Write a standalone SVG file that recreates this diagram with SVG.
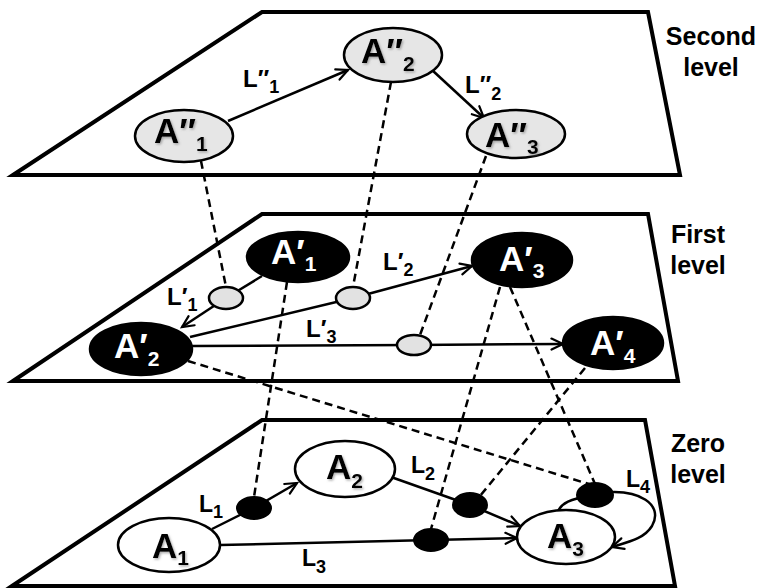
<svg xmlns="http://www.w3.org/2000/svg" width="763" height="588" viewBox="0 0 763 588">
  <defs>
    <marker id="arrow" markerWidth="16" markerHeight="16" refX="13" refY="7" orient="auto" markerUnits="userSpaceOnUse">
      <path d="M1.5,1.5 L13,7 L1.5,12.5" fill="none" stroke="#000" stroke-width="2.2" stroke-linecap="round" stroke-linejoin="miter"/>
    </marker>
    <filter id="shadow" x="-20%" y="-20%" width="140%" height="140%">
      <feDropShadow dx="1.2" dy="1.5" stdDeviation="0.9" flood-color="#777" flood-opacity="0.6"/>
    </filter>
  </defs>
  <style>
    .plane { fill: #fff; stroke: #000; stroke-width: 4; stroke-linejoin: miter; }
    .edge { fill: none; stroke: #000; stroke-width: 2.5; }
    .proj { fill: none; stroke: #000; stroke-width: 2.5; stroke-dasharray: 8 5; }
    .n2 { fill: #e6e6e6; stroke: #000; stroke-width: 2.5; }
    .n1 { fill: #000; stroke: #000; stroke-width: 2.5; }
    .n0 { fill: #fff; stroke: #000; stroke-width: 2.5; }
    .link1 { fill: #e2e2e2; stroke: #000; stroke-width: 2.5; }
    .link0 { fill: #000; stroke: #000; stroke-width: 2; }
    .name { font-family: "Liberation Sans", Arial, sans-serif; font-weight: bold; font-size: 35px; }
    .dark { fill: #000; filter: url(#shadow); }
    .light { fill: #fff; }
    .sub { font-size: 21px; }
    .lbl { font-family: "Liberation Sans", Arial, sans-serif; font-weight: bold; font-size: 24px; fill: #000; }
    .lsub { font-size: 18px; }
    .lvl { font-family: "Liberation Sans", Arial, sans-serif; font-weight: bold; font-size: 25px; fill: #000; text-anchor: middle; }
  </style>

  <!-- level planes -->
  <g id="planes">
    <polygon id="plane-second" class="plane" points="13,175 262,12 648,12 680,175"/>
    <polygon id="plane-first" class="plane" points="13,381 262,214 648,214 678,381"/>
    <polygon id="plane-zero" class="plane" points="12,586 262,420 645,420 675,586"/>
  </g>

  <!-- level captions -->
  <g id="captions">
    <text class="lvl" x="711" y="45">Second</text>
    <text class="lvl" x="711" y="76">level</text>
    <text class="lvl" x="698" y="243">First</text>
    <text class="lvl" x="698" y="274">level</text>
    <text class="lvl" x="698" y="452">Zero</text>
    <text class="lvl" x="698" y="483">level</text>
  </g>

  <!-- connectors -->
  <g id="connectors">
    <!-- second level -->
    <path class="edge" d="M228,121 L348,70" marker-end="url(#arrow)"/>
    <path class="edge" d="M432,70 L484,118" marker-end="url(#arrow)"/>
    <!-- first level -->
    <path class="edge" d="M262,276 L226,298"/>
    <path class="edge" d="M226,298 L182,327" marker-end="url(#arrow)"/>
    <path class="edge" d="M190,337 L353,298"/>
    <path class="edge" d="M353,298 L472,266" marker-end="url(#arrow)"/>
    <path class="edge" d="M192,346 L414,345"/>
    <path class="edge" d="M414,345 L563,344" marker-end="url(#arrow)"/>
    <!-- zero level -->
    <path class="edge" d="M212,529 L254,508"/>
    <path class="edge" d="M254,508 L297,483" marker-end="url(#arrow)"/>
    <path class="edge" d="M391,477 L470,505"/>
    <path class="edge" d="M470,505 L520,526" marker-end="url(#arrow)"/>
    <path class="edge" d="M220,545 L431,540"/>
    <path class="edge" d="M431,540 L517,538" marker-end="url(#arrow)"/>
    <path class="edge" d="M558,511 C562,503 570,499 590,496"/>
    <path class="edge" d="M600,493 C640,488 664,505 652,526 C644,539 628,542 612,547" marker-end="url(#arrow)"/>
    <!-- projections between levels -->
    <path class="proj" d="M201,161 L226,287"/>
    <path class="proj" d="M391,82 L353,287"/>
    <path class="proj" d="M486,156 L420,335"/>
    <path class="proj" d="M287,282 L254,497"/>
    <path class="proj" d="M188,361 L592,485"/>
    <path class="proj" d="M500,287 L431,529"/>
    <path class="proj" d="M510,287 L595,484"/>
    <path class="proj" d="M585,368 L480,496"/>
  </g>

  <!-- connector labels -->
  <g id="edge-labels">
    <text class="lbl" x="243" y="87">L″<tspan class="lsub" dy="6">1</tspan></text>
    <text class="lbl" x="465" y="93">L″<tspan class="lsub" dy="7">2</tspan></text>
    <text class="lbl" x="167" y="305">L′<tspan class="lsub" dy="6">1</tspan></text>
    <text class="lbl" x="383" y="270">L′<tspan class="lsub" dy="6">2</tspan></text>
    <text class="lbl" x="306" y="337">L′<tspan class="lsub" dy="6">3</tspan></text>
    <text class="lbl" x="199" y="512" style="font-size:23px">L<tspan class="lsub" dy="6">1</tspan></text>
    <text class="lbl" x="411" y="473" style="font-size:23px">L<tspan class="lsub" dy="7">2</tspan></text>
    <text class="lbl" x="302" y="566" style="font-size:23px">L<tspan class="lsub" dy="7">3</tspan></text>
    <text class="lbl" x="626" y="487" style="font-size:23px">L<tspan class="lsub" dy="6">4</tspan></text>
  </g>

  <!-- second level nodes -->
  <g id="A2-1">
    <ellipse class="n2" cx="184" cy="136" rx="49" ry="26"/>
    <text class="name dark" x="154" y="143">A″<tspan class="sub" dy="8">1</tspan></text>
  </g>
  <g id="A2-2">
    <ellipse class="n2" cx="393" cy="55" rx="49" ry="27"/>
    <text class="name dark" x="361" y="63">A″<tspan class="sub" dy="8">2</tspan></text>
  </g>
  <g id="A2-3">
    <ellipse class="n2" cx="516" cy="134" rx="49" ry="24"/>
    <text class="name dark" x="485" y="147">A″<tspan class="sub" dy="7">3</tspan></text>
  </g>

  <!-- first level link points -->
  <g id="L1-1"><ellipse class="link1" cx="226" cy="298" rx="17" ry="11"/></g>
  <g id="L1-2"><ellipse class="link1" cx="353" cy="298" rx="17" ry="11"/></g>
  <g id="L1-3"><ellipse class="link1" cx="414" cy="345" rx="17" ry="10"/></g>

  <!-- first level nodes -->
  <g id="A1-1">
    <ellipse class="n1" cx="298" cy="257" rx="51" ry="25"/>
    <text class="name light" x="271" y="264">A′<tspan class="sub" dy="7">1</tspan></text>
  </g>
  <g id="A1-2">
    <ellipse class="n1" cx="141" cy="349" rx="51" ry="26"/>
    <text class="name light" x="114" y="358">A′<tspan class="sub" dy="8">2</tspan></text>
  </g>
  <g id="A1-3">
    <ellipse class="n1" cx="522" cy="260" rx="50" ry="27"/>
    <text class="name light" x="499" y="271">A′<tspan class="sub" dy="7">3</tspan></text>
  </g>
  <g id="A1-4">
    <ellipse class="n1" cx="613" cy="343" rx="50" ry="26"/>
    <text class="name light" x="590" y="355">A′<tspan class="sub" dy="8">4</tspan></text>
  </g>

  <!-- zero level link points -->
  <g id="L0-1"><ellipse class="link0" cx="254" cy="508" rx="17" ry="11"/></g>
  <g id="L0-2"><ellipse class="link0" cx="470" cy="505" rx="17" ry="12"/></g>
  <g id="L0-3"><ellipse class="link0" cx="431" cy="540" rx="17" ry="11"/></g>
  <g id="L0-4"><ellipse class="link0" cx="595" cy="495" rx="18" ry="12"/></g>

  <!-- zero level nodes -->
  <g id="A0-1">
    <ellipse class="n0" cx="169" cy="545" rx="51" ry="27"/>
    <text class="name dark" x="152" y="558">A<tspan class="sub" dy="7">1</tspan></text>
  </g>
  <g id="A0-2">
    <ellipse class="n0" cx="345" cy="469" rx="50" ry="28"/>
    <text class="name dark" x="326" y="479">A<tspan class="sub" dy="9">2</tspan></text>
  </g>
  <g id="A0-3">
    <ellipse class="n0" cx="566" cy="537" rx="49" ry="27"/>
    <text class="name dark" x="547" y="548">A<tspan class="sub" dy="8">3</tspan></text>
  </g>
</svg>
